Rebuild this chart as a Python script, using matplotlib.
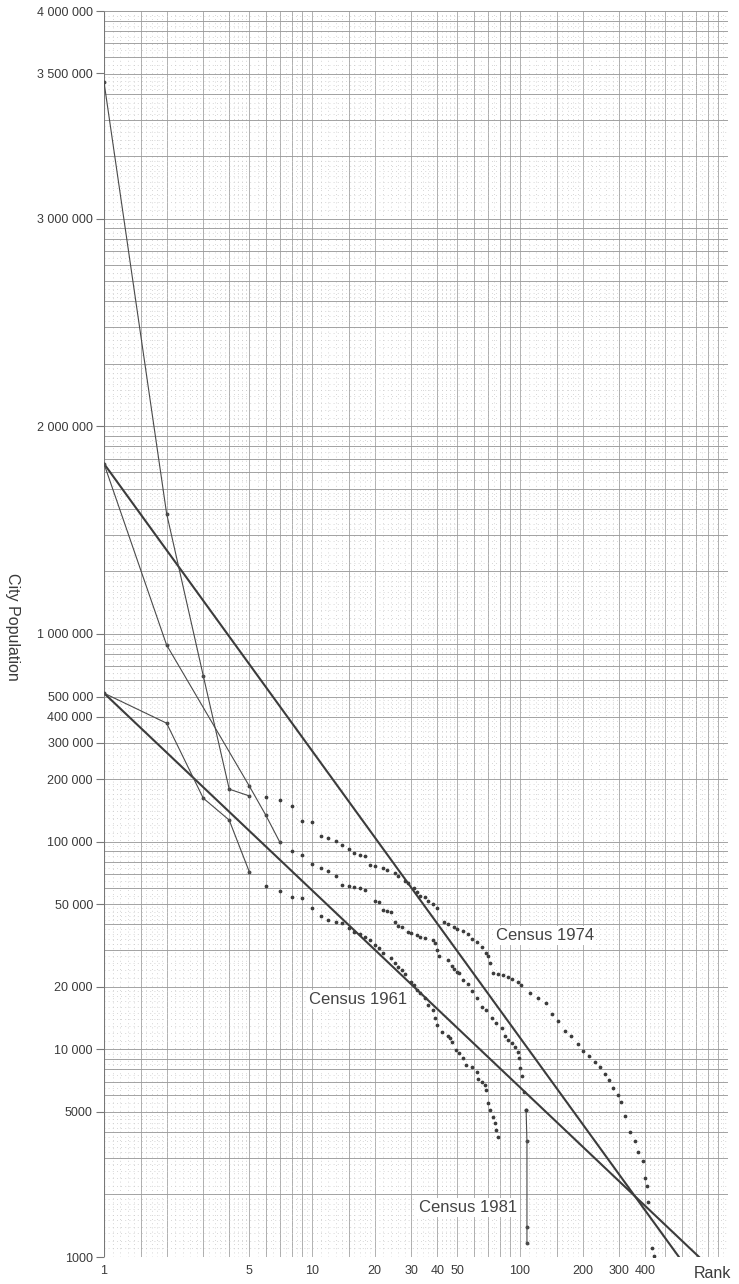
import numpy as np
import matplotlib
matplotlib.use("Agg")
import matplotlib.pyplot as plt
from matplotlib.ticker import FixedLocator, FixedFormatter, NullLocator

# ---- data ----
# Census 1974: largest towns joined by a line, then the rest as dots
line74_rank = [1, 2, 3, 4, 5]
line74_pop = [3470000, 1580000, 630000, 179000, 166000]
rank74 = [6, 7, 8, 9, 10, 11, 12, 13, 14, 15, 16, 17, 18, 19, 20,
          22, 23, 25, 26, 28, 29, 31, 32, 33, 35, 36, 38, 40,
          43, 45, 48, 50, 53, 56, 59, 62, 66, 69, 70, 72, 74, 78,
          83, 88, 92, 98, 101, 112, 122, 133, 143, 152, 164, 176, 190,
          201, 215, 230, 243, 256, 268, 280, 296, 306, 320, 338, 357, 369,
          390, 399, 408, 412, 431, 441]
pop74 = [164, 159, 148, 126, 124, 106, 104, 101, 96, 92, 88, 86, 85, 77, 76,
         75, 73, 71, 68, 65, 63, 60, 57, 55, 54, 52, 50, 48,
         41, 40, 39, 38, 37, 36, 34, 33, 31, 29, 28, 26, 23.3, 23.0,
         22.8, 22.3, 21.8, 21.1, 20.4, 18.7, 17.6, 16.8, 14.8, 13.7, 12.3, 11.6, 10.6,
         9.8, 9.3, 8.7, 8.2, 7.6, 7.1, 6.5, 6.0, 5.6, 4.8, 4.0, 3.6, 3.2,
         2.9, 2.4, 2.2, 1.84, 1.10, 1.01]

# Census 1981
line81_rank = [1, 2, 5, 6, 7]
line81_pop = [1820000, 885000, 185000, 134000, 99500]
rank81 = [8, 9, 10, 11, 12, 13, 14, 15, 16, 17, 18,
          20, 21, 22, 23, 24, 25, 26, 27,
          29, 30, 32, 33, 35, 38, 39, 40, 41,
          45, 47, 48, 50, 51, 53, 56, 59, 62, 66,
          69, 73, 77, 82, 85, 88, 92, 95, 98, 99, 100, 102, 104, 107]
pop81 = [90, 86, 78, 74.6, 72, 68, 62, 61.5, 60.4, 59.8, 58.5,
         51.8, 51.5, 46.8, 46.3, 45.8, 41, 39.2, 38.8,
         36.7, 36.3, 35.5, 34.7, 34.5, 33.6, 32.5, 30.1, 28.1,
         26.9, 25.2, 24.4, 23.6, 23.3, 21.6, 20.6, 19.1, 17.7, 16.0,
         15.5, 14.2, 13.4, 12.7, 11.6, 11.1, 10.7, 10.3, 9.7, 9.1, 8.1, 7.4, 6.2, 5.1]
tail81_rank = [107, 108, 108, 108]
tail81_pop = [5100, 3600, 1390, 1170]

# Census 1961
line61_rank = [1, 2, 3, 4, 5]
line61_pop = [519000, 372000, 162000, 127000, 71400]
rank61 = [6, 7, 8, 9, 10, 11, 12, 13, 14, 15, 16, 17, 18, 19, 20, 21, 22,
          24, 25, 26, 27, 28,
          30, 31, 32, 33, 35, 36, 38, 39, 40, 42,
          45, 46, 47, 49, 51, 53, 55, 59, 62, 63,
          66, 68, 69, 70, 72, 74, 76, 77, 78]
pop61 = [61.1, 57.8, 54.1, 53.5, 47.9, 43.8, 41.9, 41.0, 40.6, 38.4, 36.7, 35.9, 34.7, 33.6, 31.8, 30.7, 29.1,
         27.5, 26.0, 24.9, 24.1, 23.0,
         21.1, 20.4, 19.3, 18.7, 17.7, 16.3, 15.5, 14.2, 13.1, 12.1,
         11.6, 11.3, 10.8, 9.9, 9.6, 9.1, 8.4, 8.2, 7.8, 7.2,
         7.0, 6.7, 6.4, 5.5, 5.1, 4.7, 4.4, 4.1, 3.8]

# rank-size lines
fitA_rank = [1, 581]
fitA_pop = [1820000, 1000]
fitB_rank = [1, 726]
fitB_pop = [519000, 1000]

y_ticks = [1000, 5000, 10000, 20000, 50000, 100000, 200000, 300000, 400000,
           500000, 1000000, 2000000, 3000000, 3500000, 4000000]
y_labels = ["1000", "5000", "10 000", "20 000", "50 000", "100 000", "200 000",
            "300 000", "400 000", "500 000", "1 000 000", "2 000 000",
            "3 000 000", "3 500 000", "4 000 000"]
x_ticks = [1, 5, 10, 20, 30, 40, 50, 100, 200, 300, 400]
x_labels = [str(v) for v in x_ticks]

# the printed labels above 1 000 000 sit on the log-paper decade lines
top_vals = np.array([1e6, 2e6, 3e6, 3.5e6, 4e6])
top_pos = np.array([6.0, 7.0, 8.0, 8.7, 9.0])


def fwd(v):
    v = np.asarray(v, dtype=float)
    lg = np.log10(np.clip(v, 1e-3, None))
    return np.where(v <= 1e6, lg, np.interp(v, top_vals, top_pos))


def inv(p):
    p = np.asarray(p, dtype=float)
    return np.where(p <= 6, 10.0 ** np.clip(p, -3, 12), np.interp(p, top_pos, top_vals))


plt.rcParams['font.family'] = ['Liberation Sans', 'DejaVu Sans']

fig = plt.figure(figsize=(7.39, 12.84), dpi=100)
rect = [104 / 739, 1 - 1257 / 1284, 624 / 739, 1246 / 1284]

# log paper in the background: 3 x 6 cycles
paper = fig.add_axes(rect)
paper.set_xscale('log')
paper.set_yscale('log')
paper.set_xlim(1, 1000)
paper.set_ylim(1e3, 1e9)
paper.axis('off')
solid_x = [1, 1.5, 2, 3, 4, 5, 6, 7, 8, 9]
solid_y = [1, 2, 3, 4, 5, 6, 7, 8, 9]
fine = list(np.arange(1.1, 1.95, 0.1)) + list(np.arange(2.2, 4.9, 0.2)) + list(np.arange(5.5, 9.6, 0.5))
grid_dark = '#9c9c9c'
grid_light = '#c9c9c9'
for d in [1, 10, 100]:
    for m in fine:
        paper.axvline(m * d, color=grid_light, lw=0.6, ls=(0, (1, 4)))
    for m in solid_x:
        paper.axvline(m * d, color=grid_dark, lw=0.55)
for d in [1e3, 1e4, 1e5, 1e6, 1e7, 1e8]:
    for m in fine:
        paper.axhline(m * d, color=grid_light, lw=0.6, ls=(0, (1, 4)))
    for m in solid_y:
        paper.axhline(m * d, color=grid_dark, lw=0.65)
paper.axvline(1, color='#777777', lw=0.8)
paper.axhline(1e3, color='#888888', lw=0.7)
paper.axvline(1000, color=grid_dark, lw=0.6)
paper.axhline(1e9, color=grid_dark, lw=0.7)

# the chart itself
ax = fig.add_axes(rect)
ax.patch.set_alpha(0)
ax.set_xscale('log')
ax.set_yscale('function', functions=(fwd, inv))
ax.set_xlim(1, 1000)
ax.set_ylim(1000, 4000000)
for s in ax.spines.values():
    s.set_visible(False)

ink = '#3c3c3c'
ax.plot(fitA_rank, fitA_pop, color=ink, lw=1.5)
ax.plot(fitB_rank, fitB_pop, color=ink, lw=1.5)
for r, p in [(line74_rank, line74_pop), (line81_rank, line81_pop), (line61_rank, line61_pop)]:
    ax.plot(r, p, color='#4a4a4a', lw=0.8, marker='o', ms=1.8)
ax.plot(tail81_rank, tail81_pop, color='#4a4a4a', lw=0.8, marker='o', ms=1.8)
for r, p in [(rank74, pop74), (rank81, pop81), (rank61, pop61)]:
    ax.plot(r, np.array(p) * 1000, ls='none', marker='o', ms=1.7, color=ink)

box = dict(fc='white', ec='none', pad=1.5)
ax.text(132, 35500, "Census 1974", ha='center', va='center', fontsize=12, color='#444444', bbox=box)
ax.text(16.6, 17300, "Census 1961", ha='center', va='center', fontsize=12, color='#444444', bbox=box)
ax.text(56, 1740, "Census 1981", ha='center', va='center', fontsize=12, color='#444444', bbox=box)

ax.yaxis.set_major_locator(FixedLocator(y_ticks))
ax.yaxis.set_major_formatter(FixedFormatter(y_labels))
ax.yaxis.set_minor_locator(NullLocator())
ax.xaxis.set_major_locator(FixedLocator(x_ticks))
ax.xaxis.set_major_formatter(FixedFormatter(x_labels))
ax.xaxis.set_minor_locator(NullLocator())
ax.tick_params(axis='y', length=6, width=0.8, color='#777777', pad=2,
               labelsize=9, labelcolor='#3a3a3a')
ax.tick_params(axis='x', length=0, pad=6, labelsize=9, labelcolor='#3a3a3a')

fig.text(12 / 739, 1 - 627 / 1284, "City Population", rotation=270,
         ha='center', va='center', fontsize=11.5, color='#3a3a3a')
fig.text(712 / 739, 1 - 1273 / 1284, "Rank", ha='center', va='center',
         fontsize=11.5, color='#3a3a3a')

fig.savefig("out.png", dpi=100, facecolor='white')
